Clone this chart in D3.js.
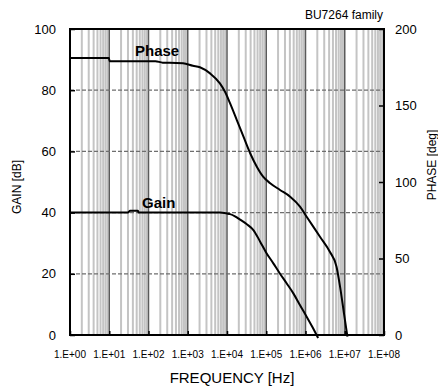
<!DOCTYPE html>
<html>
<head>
<meta charset="utf-8">
<script src="https://cdn.jsdelivr.net/npm/d3@7"></script>
<style>
html,body{margin:0;padding:0;background:#fff;}
svg{display:block;font-family:"Liberation Sans",Arial,sans-serif;}
</style>
</head>
<body>
<svg id="chart" width="438" height="387"></svg>
<script>
// ---- data ----
const gainFreq = [1, 30, 34, 54, 56, 6600, 10000, 12000, 16000, 21000, 32000, 47000, 70000, 100000, 150000, 220000, 330000, 490000, 720000, 1070000, 1500000, 2100000];
const gainDb   = [40, 40, 40.6, 40.6, 40, 40, 39.7, 39.5, 38.8, 37.8, 36.2, 34.3, 30.5, 26.9, 23.5, 20.2, 16.9, 13.6, 9.8, 6, 2.6, -1];
const phaseFreq = [1, 9.8, 10.2, 150, 230, 350, 760, 1350, 2040, 3700, 6600, 8900, 12000, 17800, 26300, 38900, 57500, 83200, 126000, 224000, 407000, 724000, 1070000, 2340000, 4170000, 6170000, 7590000, 9550000, 11700000];
const phaseDeg  = [181, 181, 179, 179, 178, 178, 177.6, 176, 175, 171, 164.5, 159, 151.4, 140.5, 129.6, 118.8, 110, 103.5, 99.2, 94.8, 90.4, 83.9, 77.3, 64.2, 54.4, 44.6, 31.6, 14.2, -1];
const xTickValues = [1, 10, 100, 1000, 10000, 100000, 1000000, 10000000, 100000000];
const xTickLabels = ["1.E+00", "1.E+01", "1.E+02", "1.E+03", "1.E+04", "1.E+05", "1.E+06", "1.E+07", "1.E+08"];
const gainTicks = [0, 20, 40, 60, 80, 100];
const phaseTicks = [0, 50, 100, 150, 200];

// ---- layout ----
const svg = d3.select("#chart");
const L = 70, R = 384, T = 29, B = 335;
const x = d3.scaleLog().domain([1, 1e8]).range([L, R]);
const yG = d3.scaleLinear().domain([0, 100]).range([B, T]);
const yP = d3.scaleLinear().domain([0, 200]).range([B, T]);

// minor vertical grid
const minors = [];
for (let d = 0; d < 8; d++) for (let m = 2; m <= 9; m++) minors.push(m * Math.pow(10, d));
svg.append("g").selectAll("line").data(minors).join("line")
  .attr("x1", d => x(d)).attr("x2", d => x(d)).attr("y1", T).attr("y2", B)
  .attr("stroke", "#c4c4c4").attr("stroke-width", 2);
// decade lines
svg.append("g").selectAll("line").data(xTickValues.slice(1, -1)).join("line")
  .attr("x1", d => x(d)).attr("x2", d => x(d)).attr("y1", T).attr("y2", B)
  .attr("stroke", "#5a5a5a").attr("stroke-width", 1.5);
// horizontal grid
svg.append("g").selectAll("line").data(gainTicks.slice(1, -1)).join("line")
  .attr("x1", L).attr("x2", R).attr("y1", d => yG(d)).attr("y2", d => yG(d))
  .attr("stroke", "#6e6e6e").attr("stroke-width", 1.2).attr("stroke-dasharray", "4,2");

// axes (inward ticks)
const axL = svg.append("g").attr("transform", `translate(${L},0)`)
  .call(d3.axisRight(yG).tickValues(gainTicks).tickSize(5).tickFormat(""));
const axR = svg.append("g").attr("transform", `translate(${R},0)`)
  .call(d3.axisLeft(yP).tickValues(phaseTicks).tickSize(5).tickFormat(""));
const axB = svg.append("g").attr("transform", `translate(0,${B})`)
  .call(d3.axisTop(x).tickValues(xTickValues).tickSize(4).tickFormat(""));
[axL, axR, axB].forEach(a => { a.select(".domain").remove(); a.selectAll("line").attr("stroke", "#000").attr("stroke-width", 1.5); });

// tick labels
svg.append("g").selectAll("text").data(gainTicks).join("text")
  .attr("x", 56).attr("y", d => yG(d)).attr("dy", "0.36em").attr("text-anchor", "end")
  .attr("font-size", 13).text(d => d);
svg.append("g").selectAll("text").data(phaseTicks).join("text")
  .attr("x", 395).attr("y", d => yP(d)).attr("dy", "0.36em").attr("text-anchor", "start")
  .attr("font-size", 13).text(d => d);
svg.append("g").selectAll("text").data(xTickValues).join("text")
  .attr("x", d => x(d)).attr("y", 357.5).attr("text-anchor", "middle")
  .attr("font-size", 10).text((d, i) => xTickLabels[i]);

// frame
svg.append("rect").attr("x", L).attr("y", T).attr("width", R - L).attr("height", B - T)
  .attr("fill", "none").attr("stroke", "#000").attr("stroke-width", 2);

// curves
const gainPts = gainFreq.map((f, i) => [f, gainDb[i]]);
const phasePts = phaseFreq.map((f, i) => [f, phaseDeg[i]]);
svg.append("path").datum(gainPts)
  .attr("d", d3.line().x(d => x(d[0])).y(d => yG(d[1])).curve(d3.curveMonotoneX))
  .attr("fill", "none").attr("stroke", "#000").attr("stroke-width", 2);
svg.append("path").datum(phasePts)
  .attr("d", d3.line().x(d => x(d[0])).y(d => yP(d[1])).curve(d3.curveMonotoneX))
  .attr("fill", "none").attr("stroke", "#000").attr("stroke-width", 2);

// labels
svg.append("text").attr("x", 135).attr("y", 56).attr("font-size", 15).attr("font-weight", "bold").text("Phase");
svg.append("text").attr("x", 142).attr("y", 208).attr("font-size", 15).attr("font-weight", "bold").text("Gain");
svg.append("text").attr("x", 383).attr("y", 19).attr("text-anchor", "end").attr("font-size", 12).text("BU7264 family");
svg.append("text").attr("transform", "translate(21,187) rotate(-90)").attr("text-anchor", "middle")
  .attr("font-size", 12).text("GAIN [dB]");
svg.append("text").attr("transform", "translate(436,165) rotate(-90)").attr("text-anchor", "middle")
  .attr("font-size", 12).text("PHASE [deg]");
svg.append("text").attr("x", 232).attr("y", 383).attr("text-anchor", "middle")
  .attr("font-size", 15).text("FREQUENCY [Hz]");
</script>
</body>
</html>
